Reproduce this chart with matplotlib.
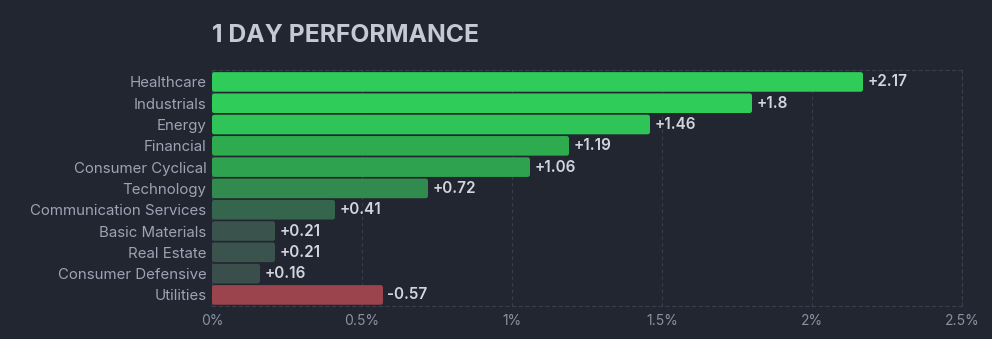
import matplotlib
matplotlib.use("Agg")
import matplotlib.pyplot as plt
from matplotlib.patches import FancyBboxPatch
import numpy as np

sectors = ["Healthcare", "Industrials", "Energy", "Financial", "Consumer Cyclical",
           "Technology", "Communication Services", "Basic Materials", "Real Estate",
           "Consumer Defensive", "Utilities"]
change = [2.17, 1.8, 1.46, 1.19, 1.06, 0.72, 0.41, 0.21, 0.21, 0.16, -0.57]
bar_colors = ["#30cc5a", "#30cc5a", "#2fc458", "#2eab4f", "#2fa24f", "#318b4e",
              "#35654d", "#3a544d", "#3a544d", "#3a4f4b", "#9b444e"]
xticks = [0, 0.5, 1, 1.5, 2, 2.5]

bg = "#222630"
grid_col = "#3a3e4c"

plt.rcParams['font.family'] = ['Inter', 'DejaVu Sans']

fig = plt.figure(figsize=(9.92, 3.39), dpi=100, facecolor=bg)
ax = fig.add_axes([212 / 992, 33 / 339, 750 / 992, 236 / 339], facecolor=bg)

y = np.arange(len(sectors))
widths = np.abs(change)
height = 0.92

# bars are drawn by magnitude, negatives in red
rects = ax.barh(y, widths, height=height, color=bar_colors)
for r in rects:
    r.set_visible(False)
    patch = FancyBboxPatch((r.get_x(), r.get_y()), r.get_width(), r.get_height(),
                           boxstyle="round,pad=0,rounding_size=0.008",
                           mutation_aspect=14, facecolor=r.get_facecolor(),
                           edgecolor="none", zorder=3)
    ax.add_patch(patch)

labels = [("+" if v >= 0 else "-") + f"{abs(v):g}" for v in change]
ax.bar_label(rects, labels=labels, padding=3, color="#d2d5de", fontsize=11,
             fontweight="semibold")

ax.set_xlim(0, 2.5)
ax.set_ylim(10.52, -0.56)
ax.set_yticks(y, sectors)
ax.set_xticks(xticks, [f"{t:g}%" for t in xticks])
ax.tick_params(axis="y", length=0, pad=4, labelsize=10.8, labelcolor="#9ea3b5")
ax.tick_params(axis="x", length=0, pad=6, labelsize=10, labelcolor="#8b90a3")

ax.grid(axis="x", color=grid_col, linestyle=(0, (3, 3)), linewidth=0.8, zorder=0)
ax.set_axisbelow(True)
for side in ["top", "right", "bottom", "left"]:
    ax.spines[side].set_color(grid_col)
    ax.spines[side].set_linestyle((0, (3, 3)))
    ax.spines[side].set_linewidth(0.8)

fig.text(212 / 992, 1 - 35 / 339, "1 DAY PERFORMANCE", color="#c6c8d3",
         fontsize=17.8, fontweight="bold", va="center", ha="left")

fig.savefig("out.png", facecolor=bg)
